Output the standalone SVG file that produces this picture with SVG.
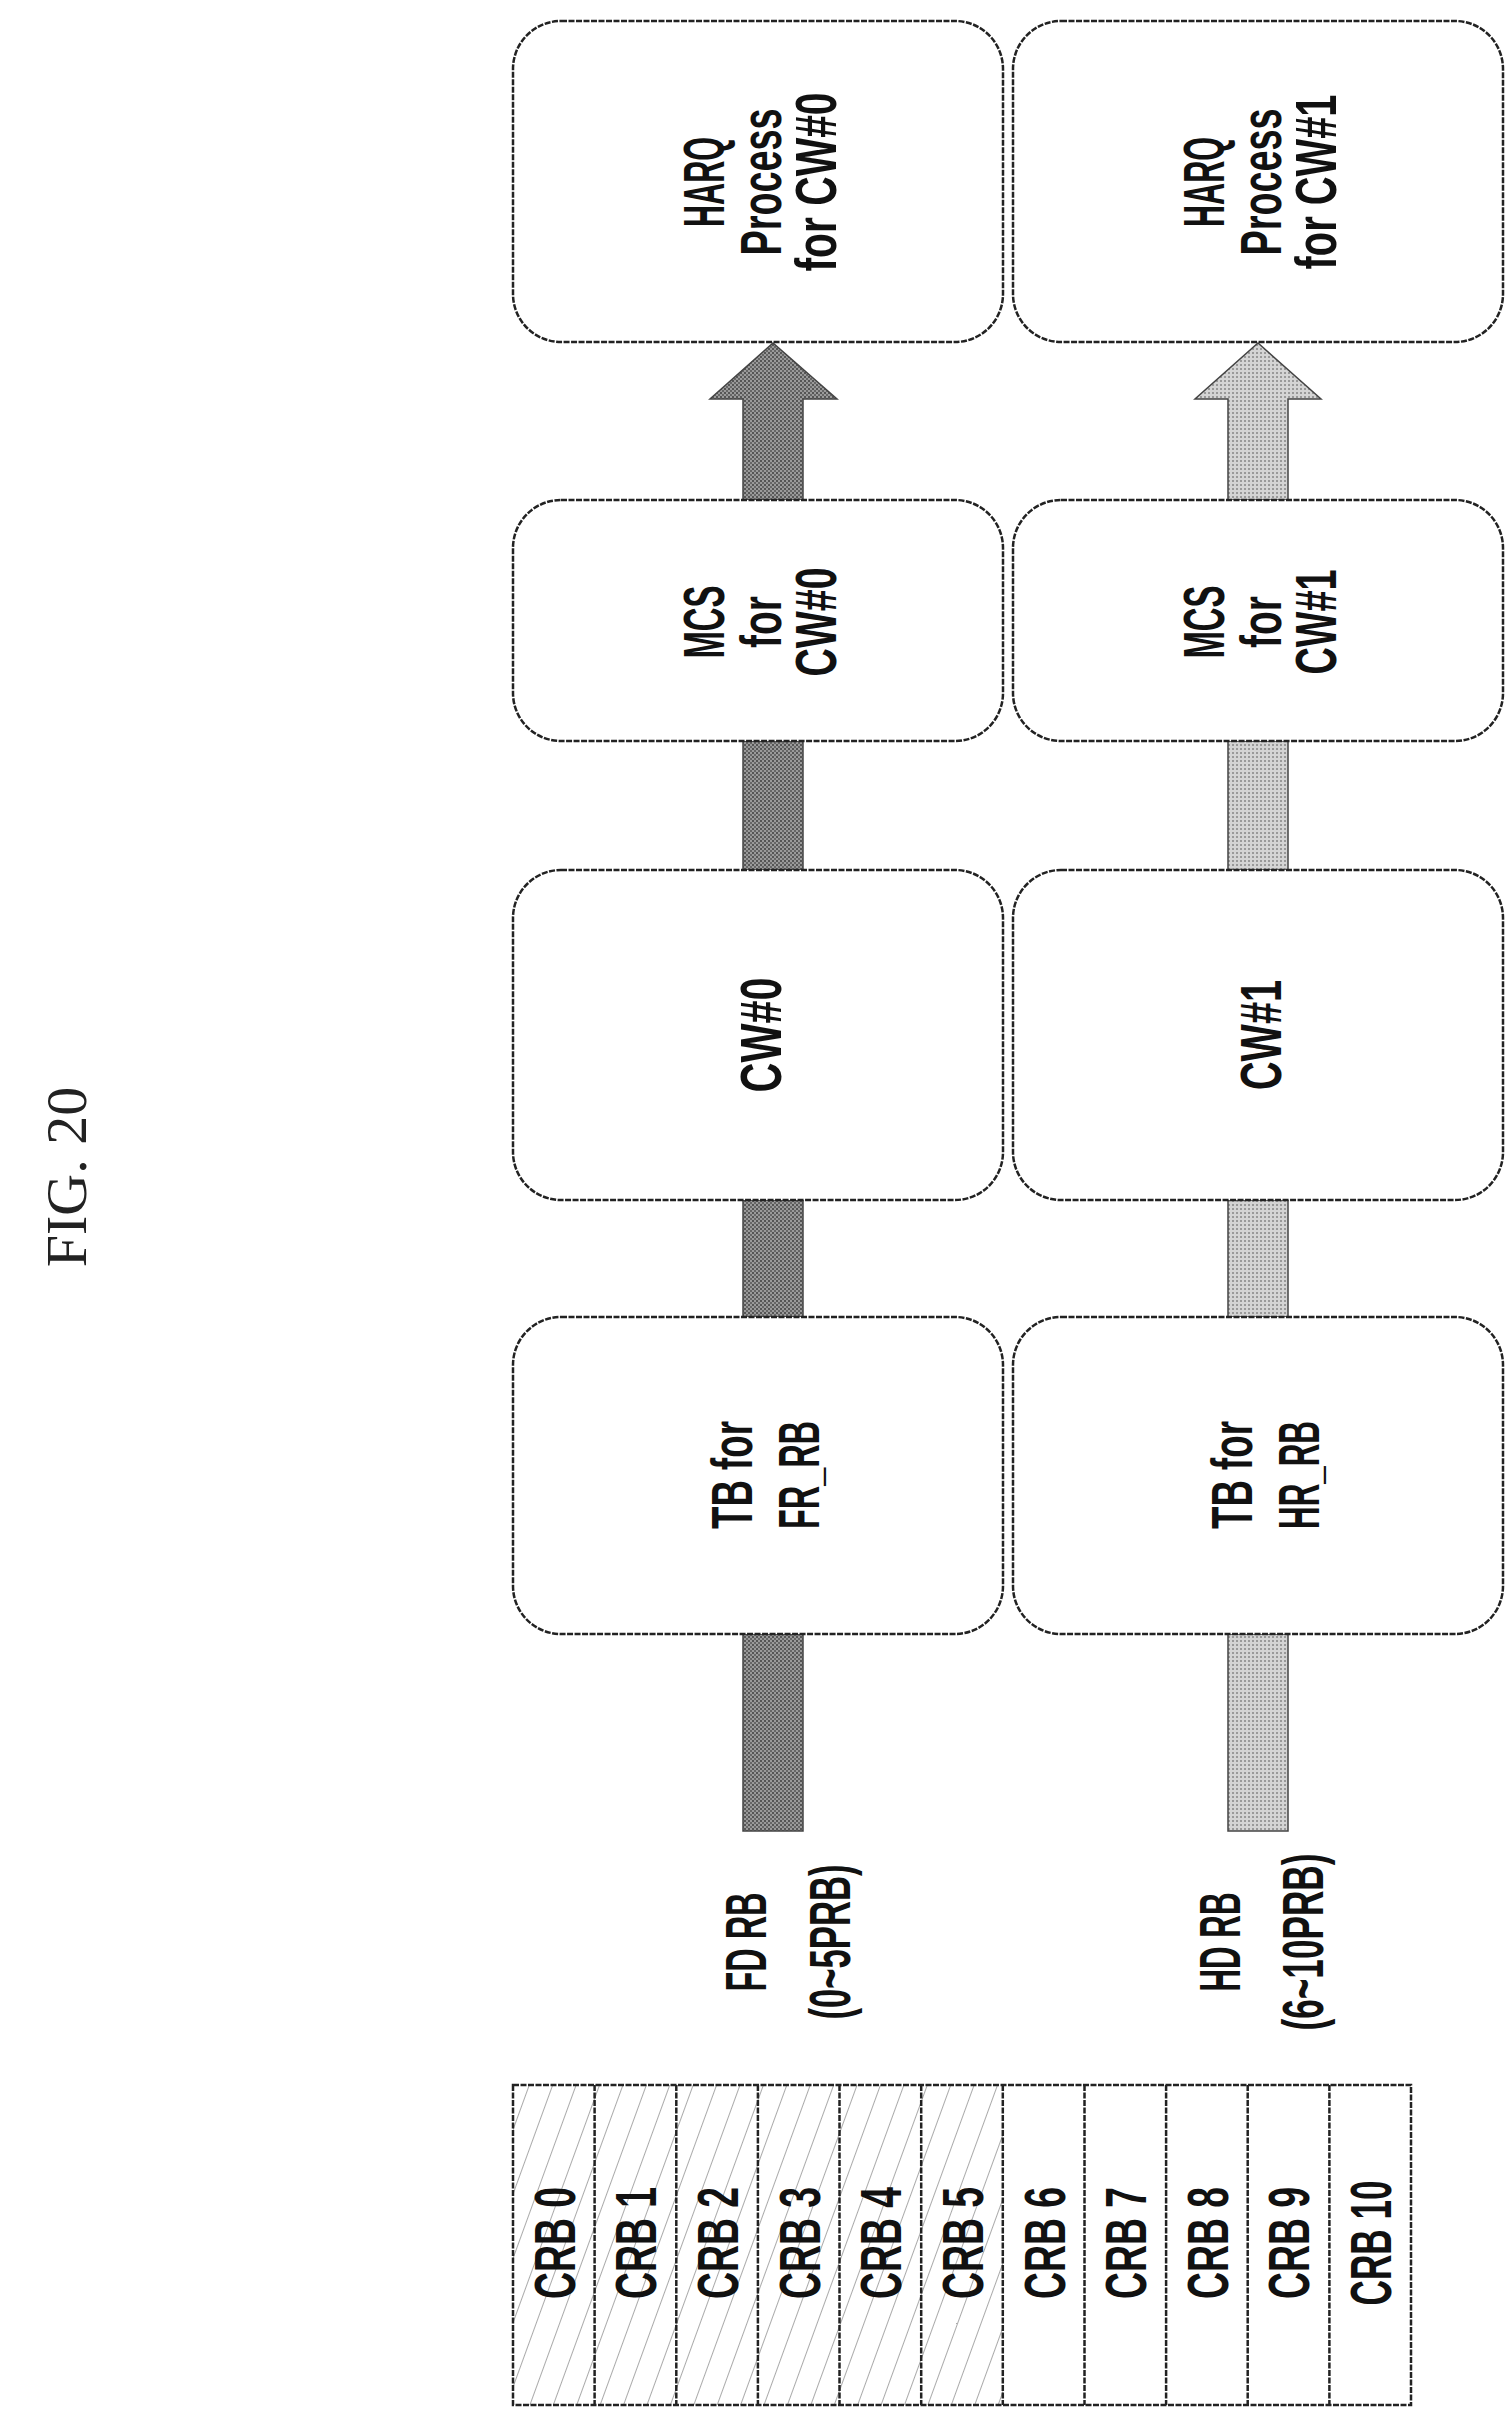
<svg xmlns="http://www.w3.org/2000/svg" width="1510" height="2417" viewBox="0 0 1510 2417">
<defs>
<pattern id="dark" width="4" height="4" patternUnits="userSpaceOnUse"><rect width="4" height="4" fill="#9a9a9a"/><rect width="2" height="2" fill="#555"/><rect x="2" y="2" width="2" height="2" fill="#666"/></pattern>
<pattern id="light" width="4" height="4" patternUnits="userSpaceOnUse"><rect width="4" height="4" fill="#d4d4d4"/><rect width="2" height="2" fill="#999"/></pattern>
<pattern id="hatch" width="22" height="22" patternUnits="userSpaceOnUse" patternTransform="rotate(20)"><line x1="0" y1="0" x2="0" y2="22" stroke="#555" stroke-width="1"/></pattern>
</defs>
<style>
.box{fill:#fff;stroke:#222;stroke-width:2.5;stroke-dasharray:6 1.5}
.t{font-family:"Liberation Sans",Arial,sans-serif;font-size:58px;font-weight:bold;fill:#111;text-anchor:middle;dominant-baseline:central}
.cell{stroke:#222;stroke-width:2.5;stroke-dasharray:6 1.5}
.sh{stroke:#444;stroke-width:1.5}
</style>
<text x="0" y="0" transform="translate(66,1177) rotate(-90)" style="font-family:'Liberation Serif',serif;font-size:58px;text-anchor:middle;dominant-baseline:central;fill:#222">FIG. 20</text>
<g id="connectors">
<rect class="sh" x="743" y="1634" width="60" height="197" fill="url(#dark)"/>
<rect class="sh" x="743" y="1200" width="60" height="117" fill="url(#dark)"/>
<rect class="sh" x="743" y="741" width="60" height="129" fill="url(#dark)"/>
<polygon class="sh" points="743,500 743,399 710,399 773,343 837,399 803,399 803,500" fill="url(#dark)"/>
<rect class="sh" x="1228" y="1634" width="60" height="197" fill="url(#light)"/>
<rect class="sh" x="1228" y="1200" width="60" height="117" fill="url(#light)"/>
<rect class="sh" x="1228" y="741" width="60" height="129" fill="url(#light)"/>
<polygon class="sh" points="1228,500 1228,399 1195,399 1258,343 1321,399 1288,399 1288,500" fill="url(#light)"/>
</g>
<g id="harq0"><rect class="box" x="513" y="21" width="490" height="321" rx="48"/>
<text class="t" transform="translate(703,182) rotate(-90)" textLength="90" lengthAdjust="spacingAndGlyphs">HARQ</text>
<text class="t" transform="translate(760,182) rotate(-90)" textLength="147" lengthAdjust="spacingAndGlyphs">Process</text>
<text class="t" transform="translate(815,182) rotate(-90)" textLength="179" lengthAdjust="spacingAndGlyphs">for CW#0</text></g>
<g id="harq1"><rect class="box" x="1013" y="21" width="490" height="321" rx="48"/>
<text class="t" transform="translate(1203,182) rotate(-90)" textLength="90" lengthAdjust="spacingAndGlyphs">HARQ</text>
<text class="t" transform="translate(1260,182) rotate(-90)" textLength="147" lengthAdjust="spacingAndGlyphs">Process</text>
<text class="t" transform="translate(1315,182) rotate(-90)" textLength="175" lengthAdjust="spacingAndGlyphs">for CW#1</text></g>
<g id="mcs0"><rect class="box" x="513" y="500" width="490" height="241" rx="48"/>
<text class="t" transform="translate(703,622) rotate(-90)" textLength="73" lengthAdjust="spacingAndGlyphs">MCS</text>
<text class="t" transform="translate(760,622) rotate(-90)" textLength="52" lengthAdjust="spacingAndGlyphs">for</text>
<text class="t" transform="translate(815,622) rotate(-90)" textLength="109" lengthAdjust="spacingAndGlyphs">CW#0</text></g>
<g id="mcs1"><rect class="box" x="1013" y="500" width="490" height="241" rx="48"/>
<text class="t" transform="translate(1203,622) rotate(-90)" textLength="73" lengthAdjust="spacingAndGlyphs">MCS</text>
<text class="t" transform="translate(1260,622) rotate(-90)" textLength="52" lengthAdjust="spacingAndGlyphs">for</text>
<text class="t" transform="translate(1315,622) rotate(-90)" textLength="105" lengthAdjust="spacingAndGlyphs">CW#1</text></g>
<g id="cw0"><rect class="box" x="513" y="870" width="490" height="330" rx="48"/>
<text class="t" transform="translate(760,1035) rotate(-90)" textLength="115" lengthAdjust="spacingAndGlyphs">CW#0</text></g>
<g id="cw1"><rect class="box" x="1013" y="870" width="490" height="330" rx="48"/>
<text class="t" transform="translate(1260,1035) rotate(-90)" textLength="110" lengthAdjust="spacingAndGlyphs">CW#1</text></g>
<g id="tb0"><rect class="box" x="513" y="1317" width="490" height="317" rx="48"/>
<text class="t" transform="translate(731,1475) rotate(-90)" textLength="108" lengthAdjust="spacingAndGlyphs">TB for</text>
<text class="t" transform="translate(798,1475) rotate(-90)" textLength="108" lengthAdjust="spacingAndGlyphs">FR_RB</text></g>
<g id="tb1"><rect class="box" x="1013" y="1317" width="490" height="317" rx="48"/>
<text class="t" transform="translate(1231,1475) rotate(-90)" textLength="108" lengthAdjust="spacingAndGlyphs">TB for</text>
<text class="t" transform="translate(1298,1475) rotate(-90)" textLength="108" lengthAdjust="spacingAndGlyphs">HR_RB</text></g>
<g id="fdrb">
<text class="t" transform="translate(745,1942) rotate(-90)" textLength="99" lengthAdjust="spacingAndGlyphs">FD RB</text>
<text class="t" transform="translate(829,1942) rotate(-90)" textLength="155" lengthAdjust="spacingAndGlyphs">(0~5PRB)</text></g>
<g id="hdrb">
<text class="t" transform="translate(1219,1942) rotate(-90)" textLength="99" lengthAdjust="spacingAndGlyphs">HD RB</text>
<text class="t" transform="translate(1302,1942) rotate(-90)" textLength="177" lengthAdjust="spacingAndGlyphs">(6~10PRB)</text></g>
<g id="crb">
<rect x="513" y="2085" width="490" height="320" fill="url(#hatch)"/>
<rect class="cell" x="513" y="2085" width="898" height="320" fill="none"/>
<g class="cell">
<line x1="594.6" y1="2085" x2="594.6" y2="2405"/><line x1="676.3" y1="2085" x2="676.3" y2="2405"/><line x1="757.9" y1="2085" x2="757.9" y2="2405"/><line x1="839.5" y1="2085" x2="839.5" y2="2405"/><line x1="921.2" y1="2085" x2="921.2" y2="2405"/><line x1="1002.8" y1="2085" x2="1002.8" y2="2405"/><line x1="1084.5" y1="2085" x2="1084.5" y2="2405"/><line x1="1166.1" y1="2085" x2="1166.1" y2="2405"/><line x1="1247.7" y1="2085" x2="1247.7" y2="2405"/><line x1="1329.4" y1="2085" x2="1329.4" y2="2405"/>
</g>
<text class="t" transform="translate(554,2243) rotate(-90)" textLength="112" lengthAdjust="spacingAndGlyphs">CRB 0</text>
<text class="t" transform="translate(635,2243) rotate(-90)" textLength="112" lengthAdjust="spacingAndGlyphs">CRB 1</text>
<text class="t" transform="translate(717,2243) rotate(-90)" textLength="112" lengthAdjust="spacingAndGlyphs">CRB 2</text>
<text class="t" transform="translate(799,2243) rotate(-90)" textLength="112" lengthAdjust="spacingAndGlyphs">CRB 3</text>
<text class="t" transform="translate(880,2243) rotate(-90)" textLength="112" lengthAdjust="spacingAndGlyphs">CRB 4</text>
<text class="t" transform="translate(962,2243) rotate(-90)" textLength="112" lengthAdjust="spacingAndGlyphs">CRB 5</text>
<text class="t" transform="translate(1044,2243) rotate(-90)" textLength="112" lengthAdjust="spacingAndGlyphs">CRB 6</text>
<text class="t" transform="translate(1125,2243) rotate(-90)" textLength="112" lengthAdjust="spacingAndGlyphs">CRB 7</text>
<text class="t" transform="translate(1207,2243) rotate(-90)" textLength="112" lengthAdjust="spacingAndGlyphs">CRB 8</text>
<text class="t" transform="translate(1288,2243) rotate(-90)" textLength="112" lengthAdjust="spacingAndGlyphs">CRB 9</text>
<text class="t" transform="translate(1370,2243) rotate(-90)" textLength="125" lengthAdjust="spacingAndGlyphs">CRB 10</text>
</g>
</svg>
